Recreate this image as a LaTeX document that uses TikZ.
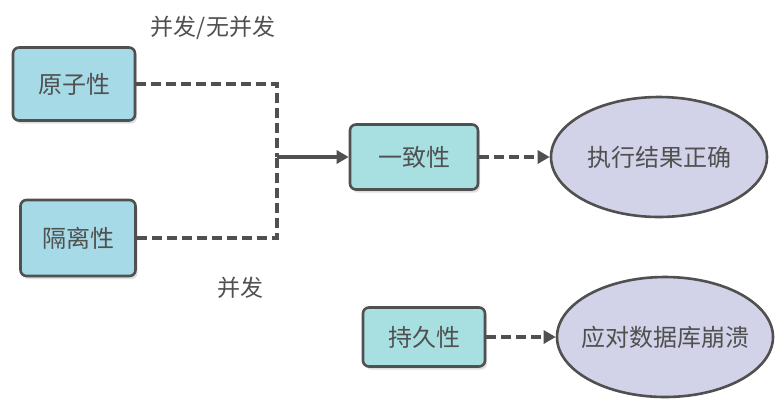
\documentclass[tikz,border=0pt]{standalone}
\usepackage{fontspec}
\setmainfont{Noto Sans CJK SC}
\usetikzlibrary{shadows,arrows.meta,shapes.geometric}
\definecolor{boxblue}{RGB}{166,218,230}
\definecolor{boxteal}{RGB}{168,224,226}
\definecolor{ovalfill}{RGB}{210,210,232}
\definecolor{ink}{RGB}{80,80,80}
\newcommand{\ovaltext}[1]{\makebox[0pt]{#1}}
\tikzset{
  prop/.style={draw=ink,line width=2.6pt,rounded corners=6pt,minimum width=#1,
    font=\fontsize{24}{28}\selectfont,text=ink,
    drop shadow={shadow xshift=2pt,shadow yshift=-3pt,fill=black!25}},
  goal/.style={draw=ink,line width=2.6pt,ellipse,fill=ovalfill,minimum width=216pt,
    minimum height=120pt,font=\fontsize{24}{28}\selectfont,text=ink},
  link/.style={draw=ink,line width=3.2pt,dash pattern=on 10pt off 5pt},
  lbl/.style={font=\fontsize{23}{27}\selectfont,text=ink}
}
\begin{document}
\begin{tikzpicture}[x=1pt,y=-1pt]
\useasboundingbox (0,0) rectangle (784,408);
            \node[prop=122pt,fill=boxblue,minimum height=73pt] (atom) at (74,84) {原子性};
            \node[prop=115pt,fill=boxblue,minimum height=76pt] (iso) at (78,238) {隔离性};
            \node[prop=128pt,fill=boxteal,minimum height=65pt] (cons) at (414,157) {一致性};
            \node[prop=122pt,fill=boxteal,minimum height=59pt] (dur) at (424,337) {持久性};
            \node[goal] (right) at (659,157) {\ovaltext{执行结果正确}};
            \node[goal] (crash) at (665,337) {\ovaltext{应对数据库崩溃}};
            \coordinate (join) at (277,157);
            \draw[link] (atom.east) -| (join);
            \draw[link] (iso.east) -| (join);
            \draw[link,solid,-{Triangle[length=12pt,width=13pt]}] (join) -- (cons);
            \draw[link,-{Triangle[length=12pt,width=13pt]}] (cons) -- (right);
            \draw[link,-{Triangle[length=12pt,width=13pt]}] (dur) -- (crash);
            \node[lbl] (both) at (213,28) {并发/无并发};
            \node[lbl] (conc) at (240,288) {并发};
\end{tikzpicture}
\end{document}
